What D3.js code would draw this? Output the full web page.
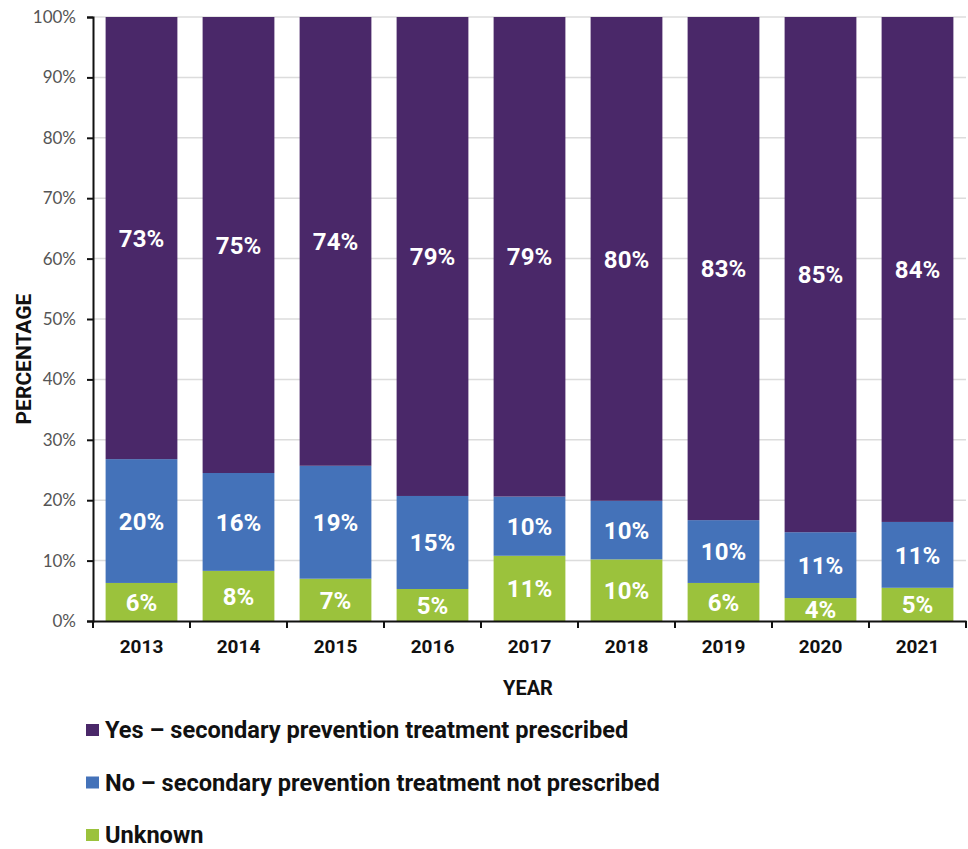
<!DOCTYPE html>
<html><head><meta charset="utf-8">
<script src="https://cdn.jsdelivr.net/npm/d3@7"></script>
<style>
body{margin:0;background:#fff;}
svg{display:block;}
</style></head>
<body>
<svg id="chart" width="968" height="849"></svg>
<script>
const years = ["2013","2014","2015","2016","2017","2018","2019","2020","2021"];
const unknown = [6.3, 8.3, 7.0, 5.3, 10.8, 10.2, 6.3, 3.8, 5.5];
const notPrescribed = [20.5, 16.2, 18.7, 15.4, 9.8, 9.7, 10.4, 10.9, 10.9];
const prescribed = [73.2, 75.5, 74.3, 79.3, 79.4, 80.1, 83.3, 85.3, 83.6];
const unknownLabels = ["6%","8%","7%","5%","11%","10%","6%","4%","5%"];
const notPrescribedLabels = ["20%","16%","19%","15%","10%","10%","10%","11%","11%"];
const prescribedLabels = ["73%","75%","74%","79%","79%","80%","83%","85%","84%"];
const yTicks = [0,10,20,30,40,50,60,70,80,90,100];
const seriesNames = ["Yes – secondary prevention treatment prescribed","No – secondary prevention treatment not prescribed","Unknown"];

const colors = {unknown:"#9bc23c", no:"#4472b9", yes:"#4a2869"};

const rows = years.map((y,i)=>({year:y, unknown:unknown[i], no:notPrescribed[i], yes:prescribed[i],
  lab:{unknown:unknownLabels[i], no:notPrescribedLabels[i], yes:prescribedLabels[i]}}));

const svg = d3.select("#chart");
const m = {left:93, right:966, top:17, bottom:621};
const x = d3.scaleBand().domain(years).range([m.left, m.right]).paddingInner(0.26).paddingOuter(0.13);
const y = d3.scaleLinear().domain([0,100]).range([m.bottom, m.top]);

const font = "Roboto, 'Open Sans', sans-serif";

// gridlines
svg.append("g").selectAll("line").data(yTicks.filter(t=>t>0)).join("line")
  .attr("x1", m.left).attr("x2", m.right)
  .attr("y1", d=>y(d)).attr("y2", d=>y(d))
  .attr("stroke","#dcdcdc").attr("stroke-width",1.5);

const keys = ["unknown","no","yes"];
const stack = d3.stack().keys(keys)(rows);

const g = svg.append("g");
stack.forEach(layer=>{
  g.append("g").selectAll("rect").data(layer).join("rect")
    .attr("x", d=>x(d.data.year))
    .attr("width", x.bandwidth())
    .attr("y", d=>y(d[1]))
    .attr("height", d=>y(d[0])-y(d[1]))
    .attr("fill", colors[layer.key]);
  g.append("g").selectAll("text").data(layer).join("text")
    .attr("x", d=>x(d.data.year)+x.bandwidth()/2)
    .attr("y", d=>(y(d[0])+y(d[1]))/2)
    .attr("dy","0.36em")
    .attr("text-anchor","middle")
    .attr("fill","#fff")
    .attr("font-family",font).attr("font-weight",700).attr("font-size",24)
    .text(d=>d.data.lab[layer.key]);
});

// y axis
const yAxis = svg.append("g").attr("transform",`translate(${m.left},0)`)
  .call(d3.axisLeft(y).tickValues(yTicks).tickFormat(d=>d+"%").tickSize(6).tickPadding(11));
yAxis.select(".domain").attr("stroke","#111").attr("stroke-width",2);
yAxis.selectAll(".tick line").attr("stroke","#111").attr("stroke-width",2);
yAxis.selectAll("text").attr("font-family","Lato, 'Open Sans', sans-serif").attr("font-size",17)
  .attr("font-weight",400).attr("fill","#555");

// x axis
const xAxis = svg.append("g").attr("transform",`translate(0,${m.bottom})`)
  .call(d3.axisBottom(x).tickSize(0).tickPadding(19));
xAxis.select(".domain").attr("stroke","#111").attr("stroke-width",2);
xAxis.selectAll("text").attr("font-family",font).attr("font-size",19)
  .attr("font-weight",700).attr("fill","#111");
// boundary ticks
const bounds = d3.range(years.length+1).map(i=>m.left + i*(m.right-m.left)/years.length);
svg.append("g").selectAll("line").data(bounds).join("line")
  .attr("x1",d=>d).attr("x2",d=>d).attr("y1",m.bottom).attr("y2",m.bottom+7)
  .attr("stroke","#111").attr("stroke-width",2);

// axis titles
svg.append("text").attr("x",528).attr("y",695).attr("text-anchor","middle")
  .attr("font-family",font).attr("font-weight",700).attr("font-size",20).attr("fill","#111").text("YEAR");
svg.append("text").attr("transform","translate(31,359) rotate(-90)").attr("text-anchor","middle")
  .attr("font-family",font).attr("font-weight",700).attr("font-size",21).attr("fill","#111").text("PERCENTAGE");

// legend
const legendKeys = ["yes","no","unknown"];
const lg = svg.append("g");
legendKeys.forEach((k,i)=>{
  const cy = 730 + i*52.5;
  lg.append("rect").attr("x",86).attr("y",cy-6).attr("width",13).attr("height",12).attr("fill",colors[k]);
  lg.append("text").attr("x",105).attr("y",cy).attr("dy","0.35em")
    .attr("font-family",font).attr("font-weight",700).attr("font-size",23.6).attr("fill","#111")
    .text(seriesNames[i]);
});
</script>
</body></html>
